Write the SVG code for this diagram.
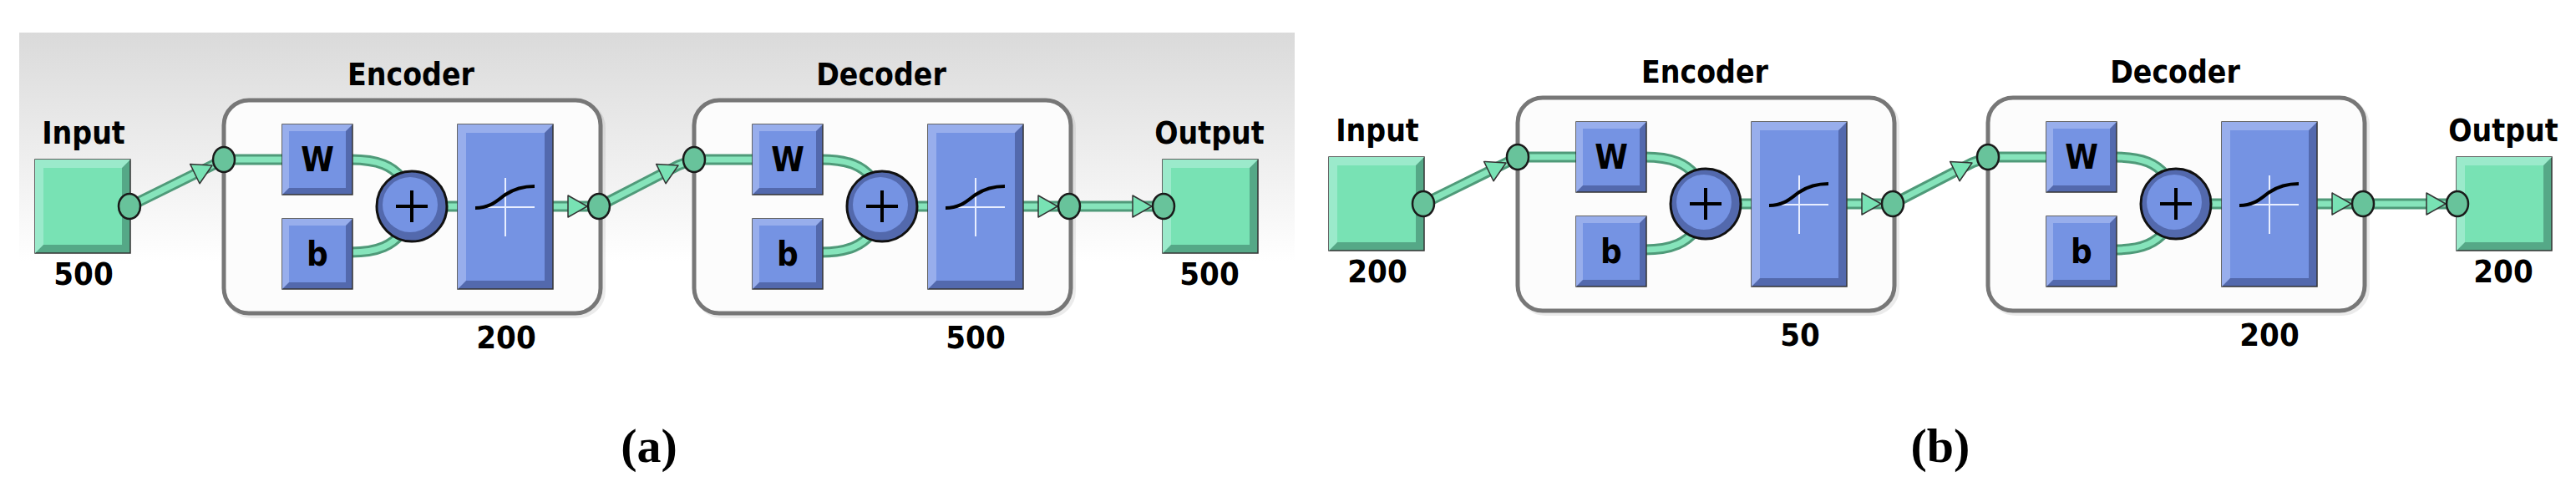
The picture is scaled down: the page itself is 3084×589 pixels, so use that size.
<svg xmlns="http://www.w3.org/2000/svg" xmlns:xlink="http://www.w3.org/1999/xlink" width="3084" height="589" viewBox="0 0 3084 589">
<style>
.t{font-family:"DejaVu Sans Condensed","DejaVu Sans",sans-serif;font-weight:bold;fill:#000;text-anchor:middle}
.ttl{font-size:37px}
.num{font-size:38px}
.wb{font-size:40px}
.cap{font-family:"Liberation Serif",serif;font-size:58px;font-weight:bold;text-anchor:middle}
.wo{fill:none;stroke:#4f9a79;stroke-width:13;stroke-linecap:butt}
.wi{fill:none;stroke:#86e4bb;stroke-width:7}
.ah{fill:#78E2B4;stroke:#333;stroke-width:1.5;stroke-linejoin:round}
.port{fill:#68c39b;stroke:#1a1a1a;stroke-width:2.5}
.frame{fill:#fcfcfc;stroke:#777;stroke-width:5}
.sh{fill:none;stroke:#000;stroke-opacity:0.08;stroke-width:6}
</style>
<defs>
<linearGradient id="bg" x1="0" y1="0" x2="0" y2="1">
<stop offset="0" stop-color="#dadada"/><stop offset="0.5" stop-color="#ffffff"/>
</linearGradient>
<g id="wbox"><rect width="84" height="84" fill="#5369AD" stroke="#333" stroke-width="1.5"/><polygon points="0,0 84,0 76,8 8,8 8,76 0,84" fill="#98AEEC"/><rect x="8" y="8" width="68" height="68" fill="#7593E3"/></g>
<g id="tbox"><rect width="114" height="197" fill="#5369AD" stroke="#333" stroke-width="1.5"/><polygon points="0,0 114,0 104,10 10,10 10,187 0,197" fill="#98AEEC"/><rect x="10" y="10" width="94" height="177" fill="#7593E3"/><path d="M57,64 V134 M27,99 H92" stroke="#e8eeff" stroke-width="2" fill="none"/><path d="M21,100 C40,100 48,90 57,84 S76,74 92,74" stroke="#000" stroke-width="4" fill="none"/></g>
<g id="gbox"><rect width="114" height="112" fill="#55A887" stroke="#333" stroke-width="1.5"/><polygon points="0,0 114,0 104,10 10,10 10,102 0,112" fill="#9BEACB"/><rect x="10" y="10" width="94" height="92" fill="#78E2B4"/></g>
<g id="plus"><circle r="42" fill="#5369AD" stroke="#111" stroke-width="3"/><circle cx="-2" cy="-2" r="33" fill="#7593E3"/><path d="M-19,0 H19 M0,-19 V19" stroke="#000" stroke-width="4"/></g>
<polygon id="ahr" class="ah" points="0,0 -23,-13 -23,13"/>
<polygon id="ahd" class="ah" points="0,0 -23,-13 -23,13" transform="rotate(-26)"/>
</defs>

<rect x="23" y="39" width="1527" height="550" fill="url(#bg)"/>

<!-- Panel (a) -->
<g id="panel-a">
<g id="a-encoder"><text class="t ttl" x="492" y="102">Encoder</text>
<rect class="sh" x="271" y="123" width="451" height="255" rx="30"/><rect class="frame" x="268" y="120" width="451" height="255" rx="30"/>
<text class="t num" x="606" y="417">200</text></g>
<g id="a-decoder"><text class="t ttl" x="1055" y="102">Decoder</text>
<rect class="sh" x="834" y="123" width="451" height="255" rx="30"/><rect class="frame" x="831" y="120" width="451" height="255" rx="30"/>
<text class="t num" x="1168" y="417">500</text></g>
<g id="a-connectors">
<path class="wo" d="M155,247 L254,198 L268,191"/><path class="wi" d="M155,247 L254,198 L268,191"/>
<use xlink:href="#ahd" x="254" y="198"/>
<path class="wo" d="M268,191 H340 M420,191 C455,191 470,200 480,212 M420,302 C455,302 470,292 480,280 M530,247 H552 M660,247 H717"/>
<path class="wi" d="M268,191 H340 M420,191 C455,191 470,200 480,212 M420,302 C455,302 470,292 480,280 M530,247 H552 M660,247 H717"/>
<use xlink:href="#ahr" x="703" y="247"/>
<path class="wo" d="M717,247 L812,198 L831,191"/><path class="wi" d="M717,247 L812,198 L831,191"/>
<use xlink:href="#ahd" x="812" y="198"/>
<path class="wo" d="M831,191 H903 M983,191 C1018,191 1033,200 1043,212 M983,302 C1018,302 1033,292 1043,280 M1093,247 H1115 M1223,247 H1393"/>
<path class="wi" d="M831,191 H903 M983,191 C1018,191 1033,200 1043,212 M983,302 C1018,302 1033,292 1043,280 M1093,247 H1115 M1223,247 H1393"/>
<use xlink:href="#ahr" x="1266" y="247"/>
<use xlink:href="#ahr" x="1379" y="247"/>
</g>
<g id="a-input"><text class="t ttl" x="100" y="172">Input</text><use xlink:href="#gbox" x="42" y="191"/><text class="t num" x="100" y="341">500</text><ellipse class="port" cx="155" cy="247" rx="13" ry="15"/></g>
<g id="a-enc-W"><use xlink:href="#wbox" x="338" y="149"/><text class="t wb" x="380" y="205">W</text></g>
<g id="a-enc-b"><use xlink:href="#wbox" x="338" y="262"/><text class="t wb" x="380" y="318">b</text></g>
<g id="a-enc-sum"><use xlink:href="#plus" x="493" y="247"/></g>
<g id="a-enc-tf"><use xlink:href="#tbox" x="548" y="149"/></g>
<g id="a-enc-ports"><ellipse class="port" cx="268" cy="191" rx="13" ry="15"/><ellipse class="port" cx="717" cy="247" rx="13" ry="15"/></g>
<g id="a-dec-W"><use xlink:href="#wbox" x="901" y="149"/><text class="t wb" x="943" y="205">W</text></g>
<g id="a-dec-b"><use xlink:href="#wbox" x="901" y="262"/><text class="t wb" x="943" y="318">b</text></g>
<g id="a-dec-sum"><use xlink:href="#plus" x="1056" y="247"/></g>
<g id="a-dec-tf"><use xlink:href="#tbox" x="1111" y="149"/></g>
<g id="a-dec-ports"><ellipse class="port" cx="831" cy="191" rx="13" ry="15"/><ellipse class="port" cx="1280" cy="247" rx="13" ry="15"/></g>
<g id="a-output"><text class="t ttl" x="1448" y="172">Output</text><use xlink:href="#gbox" x="1392" y="191"/><ellipse class="port" cx="1393" cy="247" rx="13" ry="15"/><text class="t num" x="1448" y="341">500</text></g>
</g>

<!-- Panel (b) -->
<g id="panel-b" transform="translate(1549,-3)">
<g id="b-encoder"><text class="t ttl" x="492" y="102">Encoder</text>
<rect class="sh" x="271" y="123" width="451" height="255" rx="30"/><rect class="frame" x="268" y="120" width="451" height="255" rx="30"/>
<text class="t num" x="606" y="417">50</text></g>
<g id="b-decoder"><text class="t ttl" x="1055" y="102">Decoder</text>
<rect class="sh" x="834" y="123" width="451" height="255" rx="30"/><rect class="frame" x="831" y="120" width="451" height="255" rx="30"/>
<text class="t num" x="1168" y="417">200</text></g>
<g id="b-connectors">
<path class="wo" d="M155,247 L254,198 L268,191"/><path class="wi" d="M155,247 L254,198 L268,191"/>
<use xlink:href="#ahd" x="254" y="198"/>
<path class="wo" d="M268,191 H340 M420,191 C455,191 470,200 480,212 M420,302 C455,302 470,292 480,280 M530,247 H552 M660,247 H717"/>
<path class="wi" d="M268,191 H340 M420,191 C455,191 470,200 480,212 M420,302 C455,302 470,292 480,280 M530,247 H552 M660,247 H717"/>
<use xlink:href="#ahr" x="703" y="247"/>
<path class="wo" d="M717,247 L812,198 L831,191"/><path class="wi" d="M717,247 L812,198 L831,191"/>
<use xlink:href="#ahd" x="812" y="198"/>
<path class="wo" d="M831,191 H903 M983,191 C1018,191 1033,200 1043,212 M983,302 C1018,302 1033,292 1043,280 M1093,247 H1115 M1223,247 H1393"/>
<path class="wi" d="M831,191 H903 M983,191 C1018,191 1033,200 1043,212 M983,302 C1018,302 1033,292 1043,280 M1093,247 H1115 M1223,247 H1393"/>
<use xlink:href="#ahr" x="1266" y="247"/>
<use xlink:href="#ahr" x="1379" y="247"/>
</g>
<g id="b-input"><text class="t ttl" x="100" y="172">Input</text><use xlink:href="#gbox" x="42" y="191"/><text class="t num" x="100" y="341">200</text><ellipse class="port" cx="155" cy="247" rx="13" ry="15"/></g>
<g id="b-enc-W"><use xlink:href="#wbox" x="338" y="149"/><text class="t wb" x="380" y="205">W</text></g>
<g id="b-enc-b"><use xlink:href="#wbox" x="338" y="262"/><text class="t wb" x="380" y="318">b</text></g>
<g id="b-enc-sum"><use xlink:href="#plus" x="493" y="247"/></g>
<g id="b-enc-tf"><use xlink:href="#tbox" x="548" y="149"/></g>
<g id="b-enc-ports"><ellipse class="port" cx="268" cy="191" rx="13" ry="15"/><ellipse class="port" cx="717" cy="247" rx="13" ry="15"/></g>
<g id="b-dec-W"><use xlink:href="#wbox" x="901" y="149"/><text class="t wb" x="943" y="205">W</text></g>
<g id="b-dec-b"><use xlink:href="#wbox" x="901" y="262"/><text class="t wb" x="943" y="318">b</text></g>
<g id="b-dec-sum"><use xlink:href="#plus" x="1056" y="247"/></g>
<g id="b-dec-tf"><use xlink:href="#tbox" x="1111" y="149"/></g>
<g id="b-dec-ports"><ellipse class="port" cx="831" cy="191" rx="13" ry="15"/><ellipse class="port" cx="1280" cy="247" rx="13" ry="15"/></g>
<g id="b-output"><text class="t ttl" x="1448" y="172">Output</text><use xlink:href="#gbox" x="1392" y="191"/><ellipse class="port" cx="1393" cy="247" rx="13" ry="15"/><text class="t num" x="1448" y="341">200</text></g>
</g>

<text class="cap" x="777" y="553">(a)</text>
<text class="cap" x="2323" y="553">(b)</text>
</svg>
